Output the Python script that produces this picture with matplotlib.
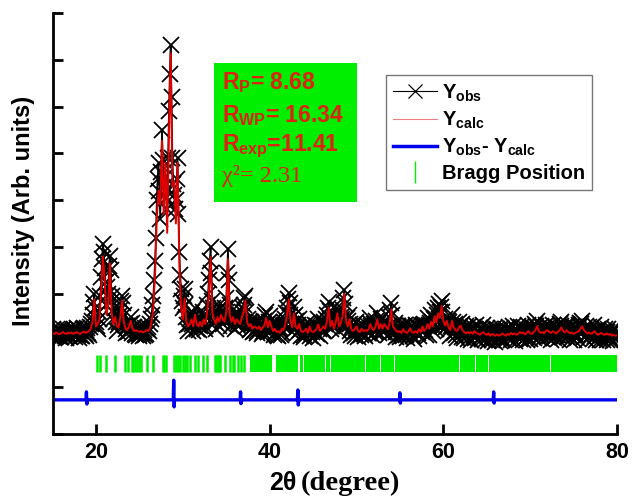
import numpy as np
import matplotlib

matplotlib.use("Agg")
import matplotlib.pyplot as plt  # noqa: E402
from matplotlib.lines import Line2D  # noqa: E402
from matplotlib.patches import Rectangle  # noqa: E402

plt.rcParams["font.family"] = ["Liberation Sans", "DejaVu Sans"]
plt.rcParams["font.weight"] = "bold"
plt.rcParams["mathtext.fontset"] = "custom"
plt.rcParams["mathtext.rm"] = "Liberation Sans:bold"
plt.rcParams["mathtext.bf"] = "Liberation Sans:bold"
plt.rcParams["mathtext.it"] = "Liberation Sans:bold"

# observed scan: 15-80 deg 2theta, 0.1 deg step (rows of 20 points = 2 deg)
OBS_START, OBS_STEP = 15.0, 0.1
# calculated profile: same range, 0.2 deg step (rows of 10 points = 2 deg)
CALC_START, CALC_STEP = 15.0, 0.2

y_obs = [
    2.24, 2.12, 2.06, 2.19, 2.22, 2.11, 2.09, 2.23, 2.20, 2.07, 2.08, 2.18, 2.25, 2.14, 2.10, 2.21, 2.05, 2.16, 2.23, 2.09,
    2.07, 2.18, 2.25, 2.11, 2.20, 2.24, 2.08, 2.15, 2.26, 2.12, 2.06, 2.22, 2.21, 2.09, 2.10, 2.25, 2.27, 2.13, 2.09, 2.22,
    2.26, 2.15, 2.12, 2.28, 2.35, 2.42, 2.55, 2.82, 3.00, 2.70, 2.40, 2.30, 2.25, 2.45, 2.60, 2.95, 3.35, 3.75, 4.07, 3.90,
    3.55, 3.25, 2.75, 3.15, 3.00, 3.60, 3.80, 3.50, 2.85, 2.95, 2.45, 2.58, 2.70, 2.40, 2.20, 2.32, 2.40, 2.52, 2.65, 2.85,
    2.95, 2.80, 2.55, 2.32, 2.15, 2.24, 2.30, 2.18, 2.20, 2.35, 2.50, 2.38, 2.15, 2.26, 2.28, 2.14, 2.12, 2.25, 2.27, 2.13,
    2.10, 2.21, 2.27, 2.15, 2.09, 2.22, 2.26, 2.12, 2.14, 2.24, 2.28, 2.20, 2.35, 2.45, 2.55, 2.75, 2.95, 3.30, 3.70, 4.20,
    5.00, 5.45, 5.80, 5.20, 4.60, 5.60, 6.50, 5.85, 5.10, 5.30, 5.50, 5.05, 4.80, 5.90, 6.90, 7.70, 8.31, 7.20, 5.90, 5.35,
    5.10, 4.80, 5.00, 5.45, 5.90, 4.70, 3.90, 3.40, 3.10, 2.85, 2.70, 2.95, 3.10, 2.75, 2.50, 2.32, 2.20, 2.36, 2.45, 2.55,
    2.60, 2.35, 2.20, 2.50, 2.70, 2.42, 2.25, 2.33, 2.40, 2.22, 2.30, 2.48, 2.42, 2.60, 2.55, 2.30, 2.25, 2.50, 2.75, 3.00,
    3.30, 3.70, 4.00, 3.45, 2.85, 2.70, 2.60, 2.40, 2.25, 2.48, 2.65, 2.45, 2.30, 2.52, 2.70, 2.50, 2.35, 2.42, 2.50, 2.70,
    2.90, 3.45, 3.96, 3.30, 2.75, 2.50, 2.30, 2.48, 2.65, 2.40, 2.25, 2.42, 2.55, 2.38, 2.30, 2.52, 2.45, 2.35, 2.60, 2.70,
    2.75, 2.90, 2.95, 2.60, 2.30, 2.45, 2.40, 2.22, 2.25, 2.40, 2.35, 2.18, 2.20, 2.36, 2.38, 2.20, 2.15, 2.30, 2.40, 2.24,
    2.30, 2.14, 2.18, 2.33, 2.42, 2.55, 2.60, 2.35, 2.18, 2.40, 2.52, 2.30, 2.20, 2.36, 2.30, 2.12, 2.15, 2.32, 2.28, 2.12,
    2.10, 2.24, 2.26, 2.12, 2.15, 2.30, 2.32, 2.40, 2.45, 2.58, 2.70, 2.88, 3.02, 2.80, 2.55, 2.35, 2.18, 2.50, 2.72, 2.55,
    2.42, 2.28, 2.15, 2.32, 2.45, 2.22, 2.10, 2.26, 2.28, 2.12, 2.08, 2.24, 2.36, 2.18, 2.25, 2.35, 2.20, 2.10, 2.32, 2.18,
    2.05, 2.20, 2.32, 2.15, 2.14, 2.30, 2.45, 2.25, 2.10, 2.26, 2.38, 2.22, 2.20, 2.40, 2.35, 2.45, 2.55, 2.70, 2.83, 2.62,
    2.45, 2.25, 2.30, 2.44, 2.38, 2.52, 2.50, 2.62, 2.70, 2.40, 2.20, 2.38, 2.50, 2.45, 2.65, 2.90, 3.08, 2.78, 2.30, 2.48,
    2.42, 2.55, 2.35, 2.20, 2.12, 2.28, 2.32, 2.15, 2.10, 2.26, 2.40, 2.20, 2.08, 2.22, 2.30, 2.12, 2.15, 2.34, 2.33, 2.14,
    2.10, 2.25, 2.32, 2.16, 2.15, 2.38, 2.48, 2.30, 2.12, 2.26, 2.35, 2.18, 2.20, 2.42, 2.58, 2.36, 2.15, 2.30, 2.45, 2.25,
    2.38, 2.18, 2.22, 2.35, 2.42, 2.25, 2.12, 2.30, 2.50, 2.65, 2.80, 2.55, 2.20, 2.30, 2.38, 2.18, 2.08, 2.25, 2.30, 2.12,
    2.08, 2.24, 2.30, 2.14, 2.10, 2.28, 2.32, 2.12, 2.05, 2.22, 2.33, 2.18, 2.14, 2.30, 2.30, 2.10, 2.04, 2.22, 2.34, 2.16,
    2.30, 2.16, 2.10, 2.26, 2.32, 2.20, 2.18, 2.34, 2.35, 2.22, 2.12, 2.30, 2.48, 2.32, 2.12, 2.38, 2.55, 2.40, 2.20, 2.45,
    2.66, 2.48, 2.25, 2.55, 2.70, 2.78, 2.60, 2.72, 2.85, 2.60, 2.30, 2.38, 2.45, 2.28, 2.30, 2.42, 2.40, 2.22, 2.10, 2.30,
    2.55, 2.40, 2.15, 2.28, 2.35, 2.12, 2.05, 2.25, 2.40, 2.30, 2.20, 2.08, 2.35, 2.18, 2.05, 2.24, 2.30, 2.12, 2.04, 2.22,
    2.30, 2.15, 2.02, 2.20, 2.28, 2.10, 2.06, 2.24, 2.32, 2.14, 2.00, 2.18, 2.27, 2.08, 2.03, 2.22, 2.33, 2.16, 2.00, 2.19,
    2.26, 2.10, 1.98, 2.16, 2.24, 2.06, 2.00, 2.20, 2.27, 2.12, 1.97, 2.14, 2.25, 2.08, 2.02, 2.21, 2.26, 2.05, 2.00, 2.18,
    2.00, 2.15, 2.24, 2.10, 2.05, 2.20, 2.28, 2.12, 2.02, 2.18, 2.30, 2.14, 1.99, 2.16, 2.25, 2.20, 2.30, 2.12, 2.04, 2.22,
    2.28, 2.12, 2.02, 2.18, 2.27, 2.08, 2.01, 2.22, 2.34, 2.15, 2.03, 2.20, 2.28, 2.10, 2.05, 2.26, 2.36, 2.30, 2.42, 2.25,
    2.06, 2.20, 2.30, 2.12, 2.04, 2.18, 2.28, 2.24, 2.33, 2.16, 2.08, 2.22, 2.31, 2.10, 2.02, 2.20, 2.34, 2.14, 2.05, 2.22,
    2.29, 2.12, 2.04, 2.24, 2.35, 2.30, 2.40, 2.18, 2.07, 2.20, 2.30, 2.14, 2.08, 2.25, 2.32, 2.10, 2.01, 2.18, 2.30, 2.12,
    2.02, 2.18, 2.29, 2.12, 2.05, 2.24, 2.33, 2.30, 2.38, 2.35, 2.42, 2.20, 2.08, 2.22, 2.30, 2.12, 2.02, 2.16, 2.28, 2.10,
    2.27, 2.14, 2.03, 2.20, 2.32, 2.10, 2.02, 2.18, 2.25, 2.08, 2.00, 2.16, 2.28, 2.12, 2.01, 2.19, 2.25, 2.10, 2.02, 2.17,
    2.25, 2.10, 2.00, 2.16, 2.22, 2.08, 1.98, 2.14, 2.24, 2.12, 2.05,
]

y_calc = [
    2.16, 2.14, 2.17, 2.15, 2.13, 2.16, 2.18, 2.15, 2.14, 2.17,
    2.15, 2.17, 2.14, 2.16, 2.18, 2.15, 2.14, 2.17, 2.19, 2.16,
    2.18, 2.20, 2.25, 2.40, 2.88, 2.30, 2.35, 2.45, 3.10, 3.80,
    3.30, 2.55, 2.75, 3.65, 2.60, 2.35, 2.50, 2.30, 2.28, 2.50,
    2.85, 2.40, 2.25, 2.22, 2.30, 2.42, 2.25, 2.20, 2.22, 2.20,
    2.18, 2.20, 2.17, 2.19, 2.22, 2.20, 2.25, 2.40, 2.70, 3.40,
    4.60, 5.20, 4.90, 6.27, 4.70, 5.80, 4.30, 6.40, 8.14, 5.30,
    5.40, 4.50, 5.80, 3.60, 2.70, 2.45, 2.90, 2.40, 2.30, 2.35,
    2.45, 2.30, 2.55, 2.35, 2.30, 2.40, 2.30, 2.45, 2.35, 2.60,
    3.00, 3.78, 2.60, 2.45, 2.35, 2.50, 2.40, 2.55, 2.45, 2.40,
    2.60, 3.74, 2.55, 2.40, 2.50, 2.35, 2.45, 2.40, 2.35, 2.50,
    2.60, 2.85, 2.40, 2.30, 2.35, 2.25, 2.30, 2.28, 2.25, 2.30,
    2.22, 2.28, 2.32, 2.48, 2.28, 2.42, 2.30, 2.20, 2.25, 2.18,
    2.20, 2.16, 2.25, 2.22, 2.35, 2.55, 2.88, 2.42, 2.28, 2.58,
    2.30, 2.25, 2.35, 2.20, 2.18, 2.20, 2.25, 2.16, 2.30, 2.20,
    2.18, 2.20, 2.25, 2.34, 2.20, 2.25, 2.30, 2.25, 2.42, 2.70,
    2.30, 2.42, 2.25, 2.38, 2.58, 2.30, 2.38, 2.52, 3.00, 2.42,
    2.30, 2.45, 2.25, 2.20, 2.24, 2.30, 2.20, 2.18, 2.25, 2.20,
    2.22, 2.20, 2.25, 2.35, 2.25, 2.22, 2.30, 2.45, 2.25, 2.35,
    2.25, 2.35, 2.30, 2.24, 2.35, 2.66, 2.30, 2.25, 2.20, 2.18,
    2.20, 2.16, 2.24, 2.18, 2.16, 2.20, 2.26, 2.18, 2.16, 2.20,
    2.16, 2.24, 2.18, 2.30, 2.20, 2.25, 2.35, 2.25, 2.40, 2.30,
    2.52, 2.38, 2.58, 2.48, 2.74, 2.42, 2.32, 2.42, 2.28, 2.22,
    2.42, 2.28, 2.22, 2.20, 2.28, 2.32, 2.22, 2.18, 2.15, 2.18,
    2.15, 2.18, 2.14, 2.20, 2.16, 2.15, 2.12, 2.15, 2.18, 2.14,
    2.12, 2.15, 2.10, 2.14, 2.12, 2.10, 2.13, 2.10, 2.12, 2.15,
    2.12, 2.10, 2.14, 2.12, 2.16, 2.13, 2.15, 2.12, 2.14, 2.18,
    2.15, 2.17, 2.13, 2.16, 2.20, 2.15, 2.14, 2.18, 2.22, 2.30,
    2.20, 2.16, 2.18, 2.15, 2.20, 2.22, 2.18, 2.16, 2.20, 2.17,
    2.15, 2.18, 2.22, 2.28, 2.20, 2.17, 2.22, 2.18, 2.15, 2.17,
    2.14, 2.16, 2.18, 2.20, 2.25, 2.30, 2.22, 2.18, 2.15, 2.17,
    2.14, 2.16, 2.20, 2.15, 2.12, 2.14, 2.16, 2.13, 2.12, 2.15,
    2.12, 2.14, 2.10, 2.12, 2.10, 2.11,
]

# difference curve (offset below the pattern), spikes at misfit peaks
diff_x = [15.4,
          18.85, 18.90, 18.95, 19.00,
          28.90, 28.95, 29.00, 29.05,
          36.60, 36.65, 36.70, 36.75,
          43.20, 43.25, 43.30, 43.35,
          54.95, 55.00, 55.05, 55.10,
          65.75, 65.80, 65.85, 65.90,
          80.0]
diff_y = [0.73,
          0.73, 0.90, 0.64, 0.73,
          0.73, 1.15, 0.58, 0.73,
          0.73, 0.90, 0.65, 0.73,
          0.73, 0.94, 0.62, 0.73,
          0.73, 0.88, 0.66, 0.73,
          0.73, 0.90, 0.66, 0.73,
          0.73]

# Bragg reflections: resolved ones, then dense runs (start, end)
bragg_lines = [20.1, 20.5, 21.2, 22.2, 23.35, 23.65, 24.1, 24.3, 24.5, 24.75,
               25.0, 25.2, 25.85, 26.6, 27.7, 27.85, 28.1, 28.95, 29.2, 29.45,
               29.7, 30.0, 30.2, 30.45, 30.8, 31.4, 31.8, 32.35, 32.8, 33.7,
               33.85, 34.0, 34.15, 34.3, 34.85, 35.4, 35.75, 35.85, 36.3,
               36.65, 37.05]
bragg_runs = [(37.7, 40.25), (40.75, 43.3), (43.45, 43.8), (43.9, 46.35),
              (46.45, 46.95), (47.05, 47.25), (47.35, 48.05), (48.15, 50.95),
              (51.05, 52.75), (52.85, 54.35), (54.45, 61.85), (61.95, 63.7),
              (63.8, 65.15), (65.25, 72.25), (72.35, 80.0)]
BRAGG_LO, BRAGG_HI = 1.32, 1.69

r_factors = [r"$\mathbf{R_{P}}$= 8.68", r"$\mathbf{R_{WP}}$= 16.34",
             r"$\mathbf{R_{exp}}$=11.41"]
chi2_text = "\u03c7\u00b2= 2.31"

GREEN = "#00ee00"
RED = "#e02010"

x_obs = OBS_START + OBS_STEP * np.arange(len(y_obs))
x_calc = CALC_START + CALC_STEP * np.arange(len(y_calc))

fig = plt.figure(figsize=(6.32, 4.96), dpi=100)
ax = fig.add_axes([0.0832, 0.125, 0.8930, 0.8488])

ax.plot(x_obs, y_obs, color="black", lw=1.2, marker="x", ms=12, mew=1.3,
        zorder=2)
ax.plot(x_calc, y_calc, color="#e00000", lw=1.4, zorder=3)
ax.vlines(bragg_lines, BRAGG_LO, BRAGG_HI, color=GREEN, lw=1.8)
ax.broken_barh([(a, b - a) for a, b in bragg_runs], (BRAGG_LO, BRAGG_HI - BRAGG_LO),
               facecolor=GREEN, edgecolor="none")
ax.plot(diff_x, diff_y, color="#0000ee", lw=2.4, solid_joinstyle="round")

ax.set_xlim(15, 80)
ax.set_ylim(0, 9)
ax.set_xticks([20, 40, 60, 80])
ax.set_yticks(range(10))
ax.set_yticklabels([])
for side in ("top", "right"):
    ax.spines[side].set_visible(False)
for side in ("left", "bottom"):
    ax.spines[side].set_linewidth(2)
ax.tick_params(axis="both", direction="in", width=2, length=7)
ax.tick_params(axis="x", labelsize=15.5, pad=6)

# fit statistics box
ax.add_patch(Rectangle((0.286, 0.55), 0.253, 0.331, transform=ax.transAxes,
                       facecolor=GREEN, edgecolor="none", zorder=4))
for txt, yb in zip(r_factors, (0.819, 0.742, 0.672)):
    ax.text(0.300, yb, txt, transform=ax.transAxes, color=RED, fontsize=16.5,
            fontweight="bold", va="baseline", zorder=5)
ax.text(0.300, 0.599, chi2_text, transform=ax.transAxes, color=RED, fontsize=17.5,
        family="Liberation Serif", fontweight="normal", va="baseline", zorder=5)

handles = [
    Line2D([], [], color="black", lw=0.8, marker="x", ms=10, mew=0.9),
    Line2D([], [], color="#e00000", lw=0.8, alpha=0.5),
    Line2D([], [], color="#0000ee", lw=2.5),
    Line2D([], [], color=GREEN, ls="None", marker="|", ms=16, mew=1),
]
labels = [r"$\mathbf{Y_{obs}}$", r"$\mathbf{Y_{calc}}$",
          r"$\mathbf{Y_{obs}}$- $\mathbf{Y_{calc}}$", "Bragg Position"]
leg = ax.legend(handles, labels, loc="upper left", bbox_to_anchor=(0.591, 0.852),
                borderaxespad=0, fontsize=14.5, handlelength=2.2,
                handletextpad=0.2, labelspacing=0.3, borderpad=0.35,
                fancybox=False, framealpha=1, numpoints=1)
leg.get_frame().set_edgecolor("#777777")
leg.get_frame().set_linewidth(1)

fig.text(24 / 632, 1 - 211 / 496, "Intensity (Arb. units)", rotation=90,
         ha="center", va="center", fontsize=17)
fig.text(297 / 632, 1 - 483 / 496, "2\u03b8", ha="right", va="center", fontsize=18)
fig.text(301 / 632, 1 - 483 / 496, "(degree)", ha="left", va="center",
         fontsize=20.5, family="Liberation Serif", fontweight="bold")

fig.savefig("out.png", dpi=100)
